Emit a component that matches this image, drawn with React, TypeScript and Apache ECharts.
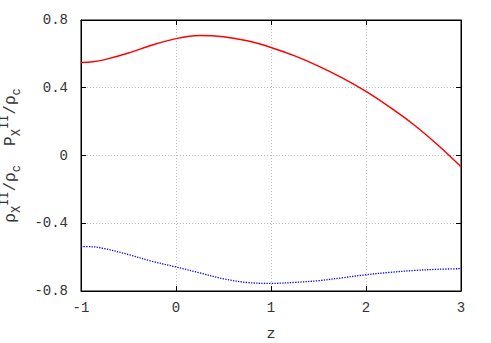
import React, { useEffect, useRef } from "react";
import * as echarts from "echarts";

const zValues = [-1, -0.875, -0.75, -0.5, -0.25, 0, 0.25, 0.5, 0.75, 1, 1.25, 1.5, 1.75, 2, 2.25, 2.5, 2.75, 3];
const energyRatio = [0.549, 0.553, 0.566, 0.605, 0.652, 0.69, 0.708, 0.701, 0.677, 0.638, 0.588, 0.528, 0.458, 0.378, 0.285, 0.183, 0.065, -0.066];
const pressureRatio = [-0.538, -0.539, -0.55, -0.585, -0.625, -0.658, -0.693, -0.728, -0.75, -0.755, -0.749, -0.739, -0.722, -0.704, -0.69, -0.679, -0.672, -0.668];
const xTicks = [-1, 0, 1, 2, 3];
const yTicks = [-0.8, -0.4, 0, 0.4, 0.8];

const FONT = "Liberation Mono";
const TXT = "#333333";

export default function App() {
  const ref = useRef<HTMLDivElement>(null);
  useEffect(() => {
    if (!ref.current) return;
    const chart = echarts.init(ref.current, undefined, { renderer: "svg" });
    const xMin = xTicks[0], xMax = xTicks[xTicks.length - 1];
    const yMin = yTicks[0], yMax = yTicks[yTicks.length - 1];
    const tickStyle = { show: true, inside: true, length: 5, lineStyle: { color: "#000", width: 1 } };
    const splitStyle = { show: true, lineStyle: { color: "#bbbbbb", type: [1, 2] as any, width: 1 } };
    const lineStyleAxis = { show: true, onZero: false, lineStyle: { color: "#000" } };
    const rich = {
      m: { fontFamily: FONT, fontSize: 16, color: TXT, lineHeight: 24 },
      sub: { fontFamily: FONT, fontSize: 12, color: TXT, verticalAlign: "bottom", lineHeight: 24 },
      sup: { fontFamily: FONT, fontSize: 12, color: TXT, verticalAlign: "top", lineHeight: 24 },
    };
    chart.setOption({
      animation: false,
      backgroundColor: "#ffffff",
      grid: {
        left: 81, right: 30, top: 20, bottom: 52, show: true, borderColor: "#000", borderWidth: 1,
        containLabel: false, outerBoundsMode: "none",
      },
      xAxis: [
        {
          type: "value", min: xMin, max: xMax, interval: 1, position: "bottom",
          name: "z", nameLocation: "middle", nameGap: 36,
          nameTextStyle: { fontFamily: FONT, fontSize: 15, color: TXT },
          axisLine: lineStyleAxis,
          axisTick: tickStyle,
          axisLabel: { fontFamily: FONT, fontSize: 14, color: TXT, margin: 10 },
          splitLine: splitStyle,
        },
        {
          type: "value", min: xMin, max: xMax, interval: 1, position: "top",
          axisLine: lineStyleAxis,
          axisTick: tickStyle, axisLabel: { show: false }, splitLine: { show: false },
        },
      ],
      yAxis: [
        {
          type: "value", min: yMin, max: yMax, interval: 0.4, position: "left",
          name: "{m|ρ}{sub|X}{sup|II}{m|/ρ}{sub|c}{m|  P}{sub|X}{sup|II}{m|/ρ}{sub|c}",
          nameLocation: "middle", nameRotate: 90, nameGap: 43,
          nameTextStyle: { rich, fontFamily: FONT, fontSize: 16, color: TXT },
          axisLine: lineStyleAxis,
          axisTick: tickStyle,
          axisLabel: {
            fontFamily: FONT, fontSize: 14, color: TXT, margin: 13,
            formatter: (v: number) => (Math.abs(v) < 1e-9 ? "0" : v.toFixed(1)),
          },
          splitLine: splitStyle,
        },
        {
          type: "value", min: yMin, max: yMax, interval: 0.4, position: "right",
          axisLine: lineStyleAxis,
          axisTick: tickStyle, axisLabel: { show: false }, splitLine: { show: false },
        },
      ],
      series: [
        {
          type: "line", xAxisIndex: 0, yAxisIndex: 0, smooth: 0.35, symbol: "none",
          data: zValues.map((z, i) => [z, energyRatio[i]]),
          lineStyle: { color: "#ff0000", width: 1.5 },
        },
        {
          type: "line", xAxisIndex: 0, yAxisIndex: 0, smooth: 0.35, symbol: "none",
          data: zValues.map((z, i) => [z, pressureRatio[i]]),
          lineStyle: { color: "#0000ff", width: 1.3, type: [1.3, 1.3] },
        },
      ],
    });
    return () => chart.dispose();
  }, []);
  return <div ref={ref} style={{ width: 491, height: 343, position: "absolute", left: 0, top: 0 }} />;
}
